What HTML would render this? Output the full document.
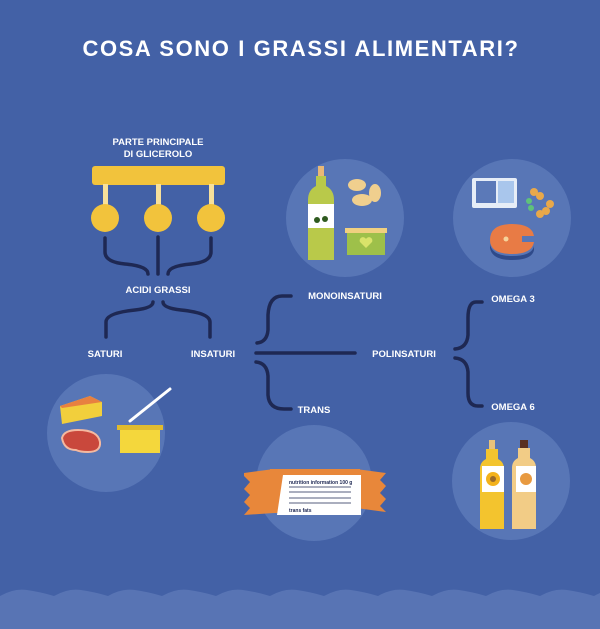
<!DOCTYPE html>
<html><head><meta charset="utf-8"><style>
html,body{margin:0;padding:0;background:#4361a6;}
svg{display:block;}
text{font-family:"Liberation Sans",sans-serif;font-weight:bold;fill:#fff;}
</style></head><body>
<svg width="600" height="629" viewBox="0 0 600 629" xmlns="http://www.w3.org/2000/svg">
<rect width="600" height="629" fill="#4361a6"/>
<text x="301" y="56" font-size="22" text-anchor="middle" letter-spacing="1.6">COSA SONO I GRASSI ALIMENTARI?</text>

<!-- circles -->
<g fill="#5876b6">
<circle cx="345" cy="218" r="59"/>
<circle cx="512" cy="218" r="59"/>
<circle cx="106" cy="433" r="59"/>
<circle cx="314" cy="483" r="58"/>
<circle cx="511" cy="481" r="59"/>
</g>

<!-- glycerol -->
<text x="158" y="145" font-size="9.5" text-anchor="middle">PARTE PRINCIPALE</text>
<text x="158" y="157" font-size="9.5" text-anchor="middle">DI GLICEROLO</text>
<rect x="92" y="166" width="133" height="19" rx="3" fill="#f2c33c"/>
<g fill="#f7e09a"><rect x="103" y="184" width="5" height="22"/><rect x="156" y="184" width="5" height="22"/><rect x="209" y="184" width="5" height="22"/></g>
<g fill="#f2c33c"><circle cx="105" cy="218" r="14"/><circle cx="158" cy="218" r="14"/><circle cx="211" cy="218" r="14"/></g>

<!-- connectors -->
<g stroke="#1e2853" stroke-width="3.5" fill="none" stroke-linecap="round">
<path d="M105 238 V252 Q105 262 125 264 Q148 266 148 274"/>
<path d="M158 237 V274"/>
<path d="M211 238 V252 Q211 262 191 264 Q168 266 168 274"/>
<path d="M153 302 Q153 308 135 310 Q106 313 106 322 V337"/>
<path d="M163 302 Q163 308 181 310 Q210 313 210 322 V337"/>
<path d="M291 296 H282 Q269 296 268 315 V330 Q267 342 257 343"/>
<path d="M256 353 H355"/>
<path d="M256 362 Q267 363 268 376 V395 Q269 409 284 409 H291"/>
<path d="M482 302 H476 Q468 302 468 318 V335 Q467 348 455 349"/>
<path d="M455 358 Q467 359 468 372 V393 Q468 406 478 406 H482"/>
</g>
<text x="158" y="293" font-size="9.5" text-anchor="middle">ACIDI GRASSI</text>
<text x="105" y="357" font-size="9.5" text-anchor="middle">SATURI</text>
<text x="213" y="357" font-size="9.5" text-anchor="middle">INSATURI</text>
<text x="345" y="299" font-size="9.5" text-anchor="middle">MONOINSATURI</text>
<text x="404" y="357" font-size="9.5" text-anchor="middle">POLINSATURI</text>
<text x="314" y="413" font-size="9.5" text-anchor="middle">TRANS</text>
<text x="513" y="302" font-size="9.5" text-anchor="middle">OMEGA 3</text>
<text x="513" y="410" font-size="9.5" text-anchor="middle">OMEGA 6</text>

<!-- mono icons -->
<rect x="318" y="166" width="6" height="10" fill="#e8b877"/>
<path d="M316 176 h10 v10 q8 4 8 14 v60 h-26 v-60 q0 -10 8 -14z" fill="#b9c94a"/>
<rect x="308" y="204" width="26" height="24" fill="#fff"/>
<circle cx="317" cy="220" r="3" fill="#2f5a1f"/><circle cx="325" cy="219" r="3" fill="#2f5a1f"/>
<g fill="#f0cf8e"><ellipse cx="357" cy="185" rx="9" ry="6"/><ellipse cx="375" cy="193" rx="6" ry="9"/><ellipse cx="362" cy="200" rx="10" ry="6"/></g>
<rect x="345" y="228" width="42" height="5" fill="#f0d080"/>
<rect x="347" y="233" width="38" height="22" fill="#9ec04a"/>
<path d="M366 248 l-6 -6 a3 3 0 0 1 6 -3 a3 3 0 0 1 6 3z" fill="#d9e36a"/>

<!-- omega3 icons -->
<rect x="472" y="178" width="45" height="30" rx="2" fill="#e6edf7"/>
<rect x="476" y="181" width="20" height="22" fill="#5b79b8"/>
<rect x="498" y="181" width="16" height="22" fill="#a9c6ec"/>
<g fill="#e8a84a"><circle cx="534" cy="192" r="4"/><circle cx="540" cy="196" r="4"/><circle cx="550" cy="204" r="4"/><circle cx="546" cy="211" r="4"/><circle cx="540" cy="214" r="4"/></g>
<g fill="#5fc27a"><circle cx="529" cy="201" r="3"/><circle cx="531" cy="208" r="3"/></g>
<path d="M490 240 q0 -16 22 -16 q20 0 22 12 h-12 v6 h12 q-2 12 -22 12 q-22 0 -22 -14z" fill="#e87b45"/>
<path d="M490 244 q2 12 22 12 q20 0 22 -10 v4 q-2 10 -22 10 q-20 0 -22 -12z" fill="#2f4a8a"/>
<circle cx="506" cy="239" r="2.5" fill="#f6d39a"/>

<!-- saturi icons -->
<path d="M60 406 l30 -10 l12 6 v14 l-40 8z" fill="#f2cf3c"/>
<path d="M60 406 l30 -10 l12 6 l-40 6z" fill="#e88040"/>
<path d="M62 438 q2 -8 16 -8 q20 0 22 12 q1 10 -12 10 q-8 0 -12 -2 q-12 0 -14 -12z" fill="#c9483c" stroke="#f4b9a0" stroke-width="2"/>
<rect x="117" y="425" width="46" height="5" fill="#e0bb2e"/>
<rect x="120" y="430" width="40" height="23" fill="#f4d73c"/>
<path d="M130 421 l40 -32" stroke="#fff" stroke-width="3" stroke-linecap="round"/>

<!-- trans bar -->
<path d="M244 473 l30 -4 v44 l-30 2 l6 -7 l-6 -6 l6 -7 l-6 -6 l6 -7 l-6 -6z" fill="#e8873a"/>
<path d="M356 469 l30 4 l-6 7 l6 6 l-6 7 l6 6 l-6 7 l6 6 l-30 -4z" fill="#e8873a"/>
<path d="M270 469 h90 v44 h-90z" fill="#e8873a"/>
<path d="M283 475 h78 v40 h-84z" fill="#fff"/>
<text x="289" y="484" font-size="5" style="fill:#1e2853">nutrition information 100 g</text>
<g stroke="#1e2853" stroke-width="0.8"><path d="M289 487 h62M289 492 h62M289 498 h62M289 503 h62"/></g>
<text x="289" y="512" font-size="5" style="fill:#1e2853">trans fats</text>

<!-- omega6 bottles -->
<rect x="489" y="440" width="6" height="9" fill="#e8c27a"/>
<path d="M486 449 h12 v10 q6 3 6 10 v60 h-24 v-60 q0 -7 6 -10z" fill="#f3c42e"/>
<rect x="482" y="466" width="22" height="26" fill="#fff"/>
<circle cx="493" cy="479" r="7" fill="#f3b21c"/><circle cx="493" cy="479" r="3" fill="#9a6a2a"/>
<rect x="520" y="440" width="8" height="8" fill="#5a3020"/>
<path d="M518 448 h12 v10 q6 3 6 10 v61 h-24 v-61 q0 -7 6 -10z" fill="#f2cc86"/>
<rect x="516" y="466" width="20" height="26" fill="#fff"/>
<circle cx="526" cy="479" r="6" fill="#e89a40"/>

<!-- wave -->
<path d="M0 596 q14 -8 27 -6 q14 2 27 6 q14 -8 27 -6 q14 2 27 6 q14 -8 27 -6 q14 2 27 6 q14 -8 27 -6 q14 2 27 6 q14 -8 27 -6 q14 2 27 6 q14 -8 27 -6 q14 2 27 6 q14 -8 27 -6 q14 2 27 6 q14 -8 27 -6 q14 2 27 6 q14 -8 27 -6 q14 2 27 6 q14 -8 27 -6 q14 2 27 6 q14 -8 27 -6 q14 2 27 6 q14 -8 27 -6 q14 2 27 6 V629 H0z" fill="#5874b4"/>
</svg>
</body></html>
